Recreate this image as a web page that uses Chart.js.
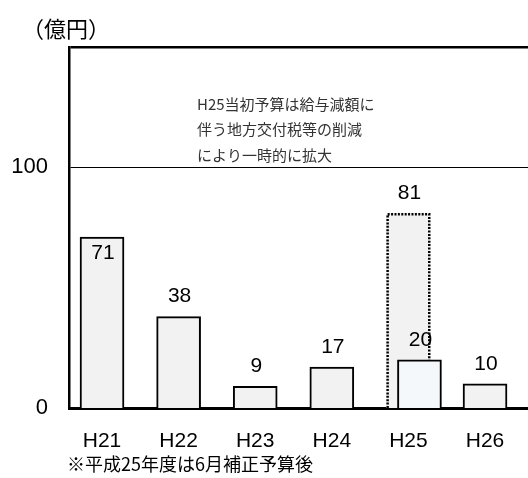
<!DOCTYPE html>
<html lang="ja">
<head>
<meta charset="utf-8">
<script src="https://cdn.jsdelivr.net/npm/chart.js@4/dist/chart.umd.min.js"></script>
<style>
  html, body { margin: 0; padding: 0; background: #fff; overflow: hidden; }
  #wrap { position: relative; width: 528px; height: 478px; }
</style>
</head>
<body>
<div id="wrap"><canvas id="c"></canvas></div>
<script>
// 年度
const categories = ['H21', 'H22', 'H23', 'H24', 'H25', 'H26'];
// 各年度の額（億円）
const finalValues = [71, 38, 9, 17, 20, 10];
// H25 当初予算（点線の枠）
const initialBudget = [null, null, null, null, 81, null];
// 縦軸の目盛
const yTickValues = [0, 100];
const yMax = 150;

const unitLabel = '（億円）';
const noteLines = ['H25当初予算は給与減額に', '伴う地方交付税等の削減', 'により一時的に拡大'];
const footnote = '※平成25年度は6月補正予算後';

const LATIN = '"Liberation Sans", Arial, sans-serif';
const CJK = '"Noto Sans CJK JP", sans-serif';
const BAR_W = 44;
const OVERLAY_SHIFT = 0.144;   // 補正後の棒を当初予算の枠から右へずらす量（カテゴリ幅比）
const X_MIN = -0.431, X_MAX = 5.561;

const finalPoints = finalValues.map((v, i) => ({
  x: i + (initialBudget[i] != null ? OVERLAY_SHIFT : 0), y: v
}));
const budgetPoints = initialBudget
  .map((v, i) => ({ x: i, y: v }))
  .filter(p => p.y != null);

const overlayPlugin = {
  id: 'overlay',
  afterDatasetsDraw(chart) {
    const ctx = chart.ctx;
    const budgetMeta = chart.getDatasetMeta(0);
    const mainMeta = chart.getDatasetMeta(1);

    // 値ラベル
    ctx.save();
    ctx.font = '21px ' + LATIN;
    ctx.fillStyle = '#000';
    ctx.textAlign = 'center';
    ctx.textBaseline = 'middle';
    mainMeta.data.forEach((bar, i) => {
      // 先頭の棒だけは値を棒の内側上端に置く
      const y = i === 0 ? bar.y + 16 : bar.y - 20;
      ctx.fillText(String(finalValues[i]), bar.x + 1, y);
    });
    budgetMeta.data.forEach((bar, j) => {
      ctx.fillText(String(budgetPoints[j].y), bar.x + 1, bar.y - 20);
    });
    ctx.restore();

    // 当初予算の点線枠（補正後の棒の背後に隠れる部分は描かない）
    budgetMeta.data.forEach(bar => {
      ctx.save();
      ctx.beginPath();
      ctx.rect(0, 0, chart.width, chart.height);
      mainMeta.data.forEach(b => {
        ctx.rect(b.x - b.width / 2, b.y, b.width, b.base - b.y);
      });
      ctx.clip('evenodd');
      const l = bar.x - bar.width / 2 + 1.2;
      const r = bar.x + bar.width / 2 - 1.2;
      ctx.strokeStyle = '#000';
      ctx.lineWidth = 2.5;
      ctx.setLineDash([2, 1.4]);
      ctx.beginPath();
      ctx.moveTo(l, bar.base);
      ctx.lineTo(l, bar.y + 1.2);
      ctx.lineTo(r, bar.y + 1.2);
      ctx.lineTo(r, bar.base);
      ctx.stroke();
      ctx.restore();
    });
  },
  afterDraw(chart) {
    const ctx = chart.ctx;
    ctx.save();
    ctx.fillStyle = '#000';
    ctx.textAlign = 'left';
    ctx.textBaseline = 'middle';
    ctx.font = '22px ' + CJK;
    ctx.fillText(unitLabel, 22, 29);

    ctx.font = '15px ' + CJK;
    ctx.fillStyle = '#333';
    noteLines.forEach((t, k) => ctx.fillText(t, 197, 104 + k * 25.5));

    ctx.font = '18px ' + CJK;
    ctx.fillStyle = '#000';
    ctx.fillText(footnote, 67, 464);
    ctx.restore();
  }
};

new Chart(document.getElementById('c'), {
  type: 'bar',
  data: {
    datasets: [
      {
        label: 'H25当初予算',
        data: budgetPoints,
        backgroundColor: '#f2f2f2',
        borderWidth: 0,
        barThickness: BAR_W,
        order: 2
      },
      {
        label: '補正後',
        data: finalPoints,
        backgroundColor: finalValues.map((v, i) => initialBudget[i] != null ? '#f4f8fa' : '#f2f2f2'),
        borderColor: '#000',
        borderWidth: 2,
        barThickness: BAR_W,
        order: 1
      }
    ]
  },
  options: {
    responsive: true,
    maintainAspectRatio: false,
    animation: false,
    grouped: false,
    layout: { padding: { top: 47, right: 0, bottom: 0, left: 0 } },
    plugins: { legend: { display: false }, tooltip: { enabled: false } },
    scales: {
      x: {
        type: 'linear',
        min: X_MIN,
        max: X_MAX,
        offset: false,
        z: 1,
        afterBuildTicks: s => { s.ticks = categories.map((_, i) => ({ value: i })); },
        afterFit: s => { s.height = 70; },
        grid: { display: false, drawTicks: false },
        border: { display: true, color: '#000', width: 3 },
        ticks: {
          autoSkip: false,
          maxRotation: 0,
          padding: 21,
          color: '#000',
          font: { family: LATIN, size: 21 },
          callback: v => categories[v]
        }
      },
      y: {
        min: 0,
        max: yMax,
        afterBuildTicks: s => { s.ticks = yTickValues.concat([yMax]).map(v => ({ value: v })); },
        afterFit: s => { s.width = 69; },
        grid: {
          drawTicks: false,
          color: '#000',
          lineWidth: c => c.tick.value === yMax ? 2.5 : (c.tick.value === 0 ? 0 : 1)
        },
        border: { display: true, color: '#000', width: 2.5 },
        ticks: {
          padding: 21,
          color: '#000',
          font: { family: LATIN, size: 22 },
          callback: v => v === yMax ? '' : String(v)
        }
      }
    }
  },
  plugins: [overlayPlugin]
});
</script>
</body>
</html>
